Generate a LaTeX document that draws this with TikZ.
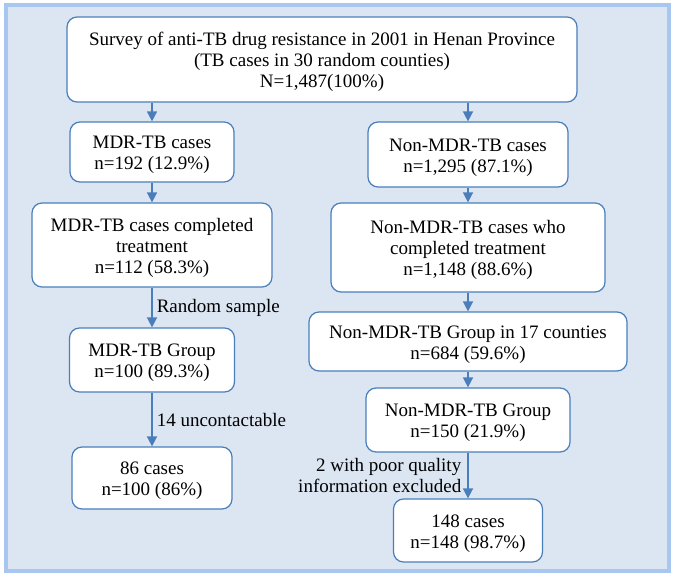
\documentclass[tikz,border=0pt]{standalone}
\usepackage{fontspec}
\setmainfont{Liberation Serif}
\usetikzlibrary{arrows.meta}
\definecolor{framebg}{RGB}{220,230,242}
\definecolor{frameglow}{RGB}{168,199,240}
\definecolor{boxblue}{RGB}{74,126,187}
\newcommand\boxtop{\rule{0pt}{21pt}}
\newcommand\boxbot{\rule[-7pt]{0pt}{0pt}}
\tikzset{
  box/.style={draw=boxblue, fill=white, rounded corners=10pt, line width=1.2pt,
    align=center, inner sep=0pt, font=\fontsize{19}{21}\selectfont},
  flow/.style={draw=boxblue, line width=1.5pt, -{Triangle[length=10pt,width=10pt]}},
  note/.style={font=\fontsize{19}{21}\selectfont, inner sep=4pt}
}
\begin{document}
\begin{tikzpicture}[x=1pt,y=-1pt]
  \useasboundingbox (0,0) rectangle (675,578);
  \draw[draw=frameglow,fill=framebg,line width=4pt] (5.5,5.5) rectangle (668.5,570.5);
  \node[box,minimum width=510pt,minimum height=85pt] (survey) at (322,59.5)
    {\boxtop Survey of anti-TB drug resistance in 2001 in Henan Province\\(TB cases in 30 random counties)\\N=1,487(100\%)\boxbot};
  \node[box,minimum width=164pt,minimum height=60pt] (mdr) at (152,152) {\boxtop MDR-TB cases\\n=192 (12.9\%)\boxbot};
  \node[box,minimum width=200pt,minimum height=65pt] (non) at (468,154.5) {\boxtop Non-MDR-TB cases\\n=1,295 (87.1\%)\boxbot};
  \node[box,minimum width=240pt,minimum height=84pt] (mdrdone) at (152,245) {\boxtop MDR-TB cases completed\\treatment\\n=112 (58.3\%)\boxbot};
  \node[box,minimum width=274pt,minimum height=89pt] (nondone) at (468,247.5) {\boxtop Non-MDR-TB cases who\\completed treatment\\n=1,148 (88.6\%)\boxbot};
  \node[box,minimum width=165pt,minimum height=64pt] (mdrgroup) at (152,360) {\boxtop MDR-TB Group\\n=100 (89.3\%)\boxbot};
  \node[box,minimum width=318pt,minimum height=59pt] (counties) at (468,341.5) {\boxtop Non-MDR-TB Group in 17 counties\\n=684 (59.6\%)\boxbot};
  \node[box,minimum width=160pt,minimum height=62pt] (mdrfinal) at (152,478) {\boxtop 86 cases\\n=100 (86\%)\boxbot};
  \node[box,minimum width=204pt,minimum height=64pt] (nongroup) at (468,420) {\boxtop Non-MDR-TB Group\\n=150 (21.9\%)\boxbot};
  \node[box,minimum width=149pt,minimum height=63pt] (nonfinal) at (468,530.5) {\boxtop 148 cases\\n=148 (98.7\%)\boxbot};
  \draw[flow] (mdr |- survey.south) -- (mdr.north);
  \draw[flow] (non |- survey.south) -- (non.north);
  \draw[flow] (mdr.south) -- (mdrdone.north);
  \draw[flow] (non.south) -- (nondone.north);
  \draw[flow] (mdrdone.south) -- node[note,right,midway] {Random sample} (mdrgroup.north);
  \draw[flow] (nondone.south) -- (counties.north);
  \draw[flow] (mdrgroup.south) -- node[note,right,midway] {14 uncontactable} (mdrfinal.north);
  \draw[flow] (counties.south) -- (nongroup.north);
  \draw[flow] (nongroup.south) -- node[note,left,midway,align=right,xshift=-2pt] {2 with poor quality\\information excluded} (nonfinal.north);
\end{tikzpicture}
\end{document}
